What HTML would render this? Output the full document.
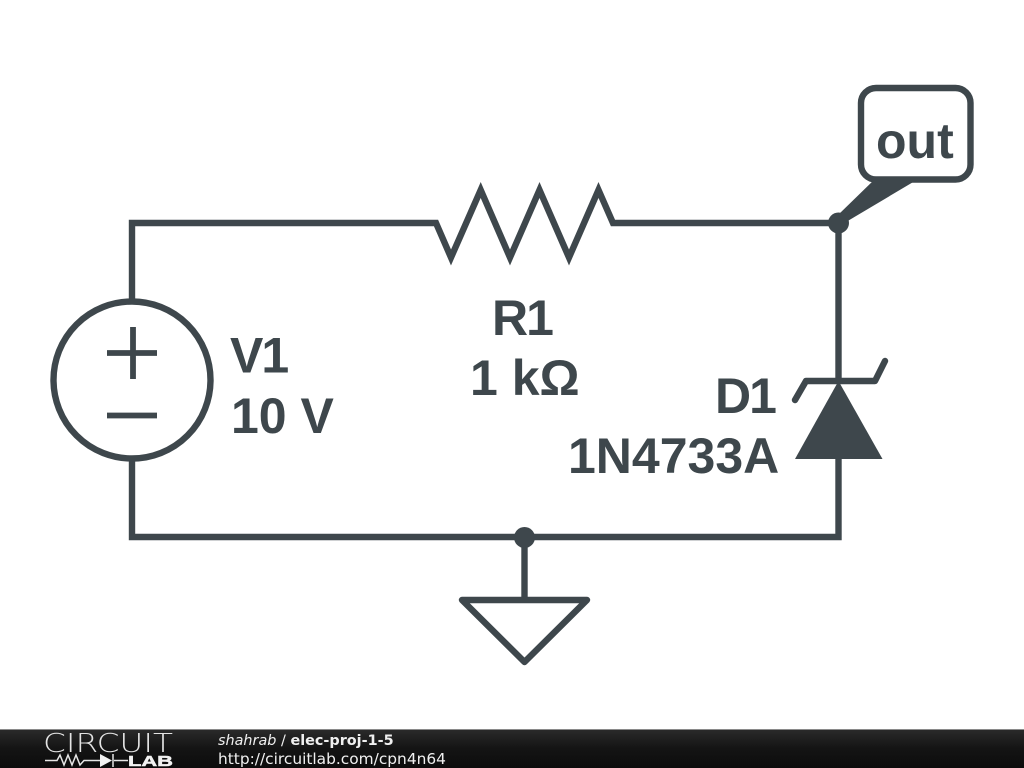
<!DOCTYPE html>
<html>
<head>
<meta charset="utf-8">
<style>
html,body{margin:0;padding:0;background:#fff;width:1024px;height:768px;overflow:hidden}
svg{display:block}
</style>
</head>
<body>
<svg width="1024" height="768" viewBox="0 0 1024 768" xmlns="http://www.w3.org/2000/svg">
<defs>
<linearGradient id="bar" x1="0" y1="0" x2="0" y2="1">
<stop offset="0" stop-color="#2b2b2b"/><stop offset="0.5" stop-color="#141414"/><stop offset="1" stop-color="#0c0c0c"/>
</linearGradient>
</defs>
<rect width="1024" height="768" fill="#fff"/>
<g fill="none" stroke="#3e474c" stroke-width="6.400" stroke-linejoin="miter" stroke-linecap="butt">
<path d="M132 301V223H436L451 257.500L480.700 190L510 257.500L539.500 190L569 257.500L598.500 190L613 223H838.500V381"/>
<path d="M132 460V537H838.500V459"/>
<circle cx="132" cy="380" r="78.500"/>
<path d="M133 327V379M107 353H157M107 415.500H157" stroke-width="5.800"/>
<path d="M524.500 537V600"/>
</g>
<g fill="none" stroke="#3e474c" stroke-width="6.400" stroke-linejoin="round" stroke-linecap="round">
<path d="M462 600H587L524.500 662Z"/>
<path d="M795 400L806 381H875L885 361"/>
<rect x="861" y="88" width="109.500" height="91.500" rx="15"/>
</g>
<g fill="#3e474c">
<circle cx="838.500" cy="223" r="10.500"/>
<circle cx="524.500" cy="537.500" r="10.500"/>
<path d="M838.500 381L882.500 459H795Z"/>
<path d="M876 178H920L846 222L838 215Z"/>
</g>
<g fill="#3e474c" font-family="'Liberation Sans',sans-serif" font-weight="700" font-size="50">
<text x="492" y="335" letter-spacing="-2">R1</text>
<text x="470" y="395">1 kΩ</text>
<text x="230" y="372.500" letter-spacing="-2">V1</text>
<text x="231" y="433">10 V</text>
<text x="715" y="413" letter-spacing="-2">D1</text>
<text x="568" y="473">1N4733A</text>
<text x="876" y="158">out</text>
</g>
<rect y="729" width="1024" height="39" fill="url(#bar)"/>
<rect y="729" width="1024" height="1" fill="#8a8a8a"/>
<text x="43" y="752" fill="#e4e4e4" font-family="'DejaVu Sans',sans-serif" font-size="26" textLength="130" lengthAdjust="spacingAndGlyphs" font-weight="200">CIRCUIT</text>
<g fill="none" stroke="#e6e6e6" stroke-width="1.500">
<path d="M45 760.500H57L60 755L64 765L68 755L72 765L76 755L80 765L84 760.500H100M114 760.500H128"/>
<path d="M113 754V767"/>
</g>
<path d="M100 754L112 760.500L100 767Z" fill="#f2f2f2"/>
<text x="128" y="766" fill="#f2f2f2" stroke="#f2f2f2" stroke-width="0.500" font-family="'Liberation Sans',sans-serif" font-weight="700" font-size="15" textLength="45" lengthAdjust="spacingAndGlyphs">LAB</text>
<text x="218" y="745" fill="#f0f0f0" font-family="'DejaVu Sans',sans-serif" font-size="14.400"><tspan font-style="italic">shahrab</tspan> / <tspan font-weight="700">elec-proj-1-5</tspan></text>
<text x="218" y="764" fill="#f0f0f0" font-family="'DejaVu Sans',sans-serif" font-size="15.400">http://circuitlab.com/cpn4n64</text>
</svg>
</body>
</html>
